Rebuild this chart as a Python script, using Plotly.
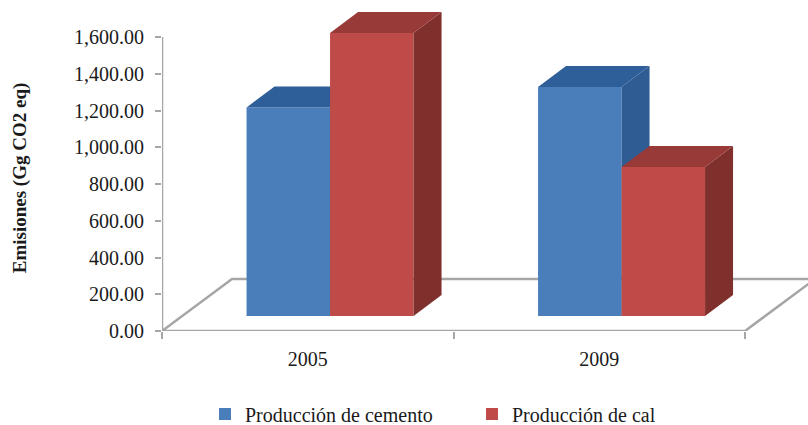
import plotly.graph_objects as go

categories = ["2005", "2009"]
cemento = [1135, 1246]
cal = [1540, 811]
y_ticks = [0, 200, 400, 600, 800, 1000, 1200, 1400, 1600]
series_names = ["Producción de cemento", "Producción de cal"]

W, H = 808, 425
AX_L, AX_B, AX_T = 162, 331, 25
PX_X = 291.5          # px per category
PX_Y = 294 / 1600     # px per value unit
x_max = (W - AX_L) / PX_X
y_max = (AX_B - AX_T) / PX_Y
y2_max = AX_B / PX_Y

# pseudo-3D geometry, in axis units
lift = 15 / PX_Y
dx, dy = 28 / PX_X, 21 / PX_Y
floor_dx, floor_dy = 70 / PX_X, 283
bar_w = 83.5 / PX_X
shift = 22.3 / PX_X

FONT = "Liberation Serif"
GREY = "#a6a6a6"
TXT = "#1a1a1a"
styles = [
    dict(front="#4a7ebb", side="#2f5c92", top="#2f5f99", z=1),
    dict(front="#be4b48", side="#7f2f2c", top="#983a37", z=2),
]

fig = go.Figure()


def line(xs, ys, yaxis="y2"):
    fig.add_trace(go.Scatter(x=xs, y=ys, yaxis=yaxis, mode="lines", cliponaxis=False, showlegend=False,
                             hoverinfo="skip", line=dict(color=GREY, width=2.5), zorder=0))


line([0, 0], [0, 1600], "y")
line([0, 2, 2 + floor_dx], [0, 0, floor_dy])
line([0, floor_dx, 2 + floor_dx], [0, floor_dy, floor_dy])

centers = [i + 0.5 + shift for i in range(len(categories))]
for s, (name, vals, st) in enumerate(zip(series_names, [cemento, cal], styles)):
    xs = [c + (s - 0.5) * bar_w for c in centers]
    fig.add_trace(go.Bar(x=xs, y=vals, yaxis="y2", base=[lift] * len(vals), width=bar_w, name=name,
                         marker=dict(color=st["front"], line=dict(width=0)), zorder=st["z"]))
    for xc, v in zip(xs, vals):
        x0, x1, b, t = xc - bar_w / 2, xc + bar_w / 2, lift, lift + v
        fig.add_trace(go.Scatter(x=[x1, x1 + dx, x1 + dx, x1, x1], y=[b, b + dy, t + dy, t, b], yaxis="y2",
                                 mode="lines", fill="toself", fillcolor=st["side"], line=dict(width=0),
                                 showlegend=False, hoverinfo="skip", zorder=st["z"]))
        fig.add_trace(go.Scatter(x=[x0, x0 + dx, x1 + dx, x1, x0], y=[t, t + dy, t + dy, t, t], yaxis="y2",
                                 mode="lines", fill="toself", fillcolor=st["top"], line=dict(width=0),
                                 showlegend=False, hoverinfo="skip", zorder=st["z"]))

fig.update_layout(
    width=W, height=H, margin=dict(l=AX_L, r=0, t=0, b=H - AX_B),
    paper_bgcolor="white", plot_bgcolor="rgba(0,0,0,0)", barmode="overlay",
    font=dict(family=FONT, size=20, color=TXT),
    xaxis=dict(range=[0, x_max], tickvals=[0.5, 1.5], ticktext=categories, ticks="", showgrid=False,
               zeroline=False, showline=False, ticklabelstandoff=14, anchor="y",
               minor=dict(tickvals=[0, 1, 2], ticks="outside", ticklen=7, tickcolor=GREY, tickwidth=2)),
    yaxis=dict(domain=[0, (AX_B - AX_T) / AX_B], range=[0, y_max], tickvals=y_ticks, tickformat=",.2f",
               ticks="outside", ticklen=6, ticklabelstandoff=7, anchor="x",
               tickcolor=GREY, tickwidth=2, showgrid=False, zeroline=False, showline=False,
               title=dict(text="<b>Emisiones (Gg CO2 eq)</b>", font=dict(size=19), standoff=42)),
    yaxis2=dict(domain=[0, 1], range=[0, y2_max], visible=False, anchor="x"),
    legend=dict(orientation="h", xref="container", yref="container", x=205 / W, xanchor="left",
                y=1 - 414 / H, yanchor="middle", entrywidth=222, entrywidthmode="pixels",
                font=dict(size=20), bgcolor="rgba(0,0,0,0)"),
)

fig.write_html("out.html", post_script="document.body.style.margin='0';",
               config={"displayModeBar": False})
